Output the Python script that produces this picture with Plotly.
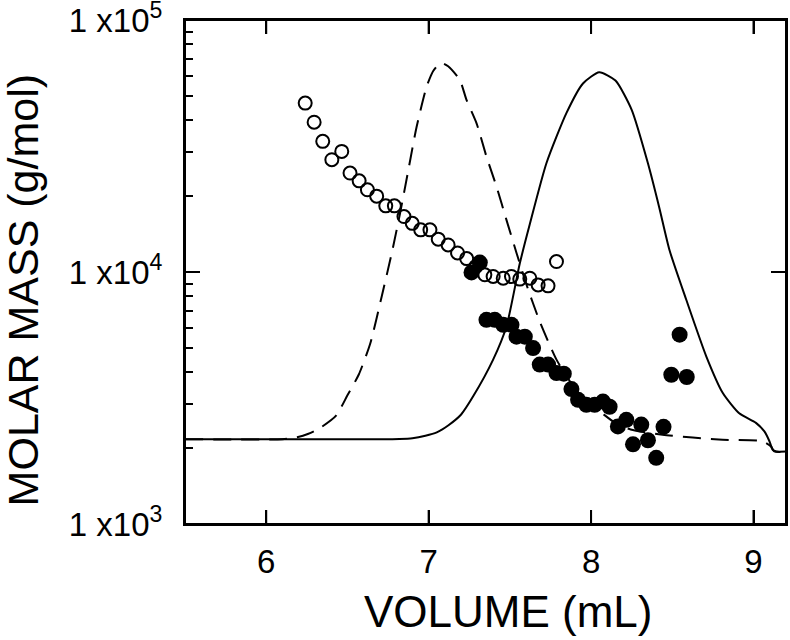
import plotly.graph_objects as go

# ---- data ----
volume_open = [6.240, 6.295, 6.348, 6.404, 6.465, 6.516, 6.572, 6.623, 6.680, 6.736,
               6.789, 6.848, 6.899, 6.951, 7.008, 7.059, 7.120, 7.178, 7.234, 7.290,
               7.346, 7.397, 7.459, 7.510, 7.561, 7.623, 7.674, 7.735, 7.787]
mass_open = [46800, 39300, 33000, 27900, 30100, 24700, 23000, 21200, 20000, 18300,
             18300, 16600, 15600, 14700, 14700, 13500, 12800, 11900, 11300, 10500,
             9750, 9600, 9450, 9600, 9370, 9450, 8890, 8810, 11000]

volume_filled = [7.264, 7.315, 7.356, 7.407, 7.459, 7.510, 7.541, 7.592, 7.643, 7.684,
                 7.735, 7.787, 7.832, 7.879, 7.920, 7.971, 8.022, 8.073, 8.114, 8.165,
                 8.217, 8.258, 8.309, 8.350, 8.401, 8.446, 8.494, 8.545, 8.589]
mass_filled = [9960, 10900, 6460, 6460, 6170, 6170, 5540, 5540, 4990, 4290,
               4290, 3970, 3950, 3430, 3110, 2970, 2970, 3060, 2920, 2440,
               2590, 2070, 2480, 2150, 1830, 2430, 3910, 5640, 3830]

volume_dashed = [5.50, 6.10, 6.19, 6.26, 6.33, 6.43, 6.50, 6.57, 6.64, 6.711,
                 6.773, 6.824, 6.875, 6.926, 6.988, 7.03, 7.075, 7.12, 7.192, 7.233,
                 7.295, 7.356, 7.418, 7.479, 7.541, 7.60, 7.684, 7.787, 7.885, 7.957,
                 8.053, 8.148, 8.244, 8.44, 8.81, 9.055, 9.108, 9.128, 9.20]
signal_dashed = [2170, 2170, 2210, 2280, 2400, 2690, 3240, 3920, 5190, 8000,
                 11900, 17100, 25400, 37700, 54500, 63000, 67500, 65500, 57800, 48200,
                 38900, 28700, 21800, 16100, 11900, 9000, 6360, 4490, 3560, 3140,
                 2800, 2520, 2370, 2260, 2160, 2130, 2030, 1940, 1935]

volume_solid = [5.50, 6.70, 6.82, 6.90, 6.98, 7.05, 7.12, 7.20, 7.274, 7.397, 7.479,
                7.561, 7.623, 7.725, 7.848, 7.95, 8.05, 8.15, 8.25, 8.35, 8.42,
                8.483, 8.586, 8.709, 8.811, 8.912, 9.015, 9.067, 9.098, 9.118, 9.14, 9.20]
signal_solid = [2170, 2170, 2175, 2190, 2240, 2310, 2460, 2720, 3210, 4490, 6080,
                10800, 15500, 27000, 42700, 56000, 62000, 57500, 44000, 27000, 18000,
                12200, 7760, 4630, 3310, 2750, 2520, 2330, 2130, 1970, 1940, 1940]

x_range = [5.5, 9.2]
y_range_log = [2.99999, 5.00001]
x_tick_vals = [6, 7, 8, 9]
y_tick_vals = [1e3, 1e4, 1e5]
y_tick_text = ["1 x10<sup>3</sup>", "1 x10<sup>4</sup>", "1 x10<sup>5</sup>"]
y_minor_vals = [2e3, 3e3, 4e3, 5e3, 6e3, 7e3, 8e3, 9e3,
                2e4, 3e4, 4e4, 5e4, 6e4, 7e4, 8e4, 9e4]

FONT = "Liberation Sans, Arial, sans-serif"
PLOT_H = 640 - 20 - 116
X_TICK_FRAC = 14 / PLOT_H

fig = go.Figure()
fig.add_trace(go.Scatter(x=volume_dashed, y=signal_dashed, mode="lines", xaxis="x2", yaxis="y2",
                         line=dict(color="black", width=2, dash="18px,10px", shape="spline", smoothing=0.6),
                         showlegend=False, hoverinfo="skip"))
fig.add_trace(go.Scatter(x=volume_solid, y=signal_solid, mode="lines", xaxis="x2", yaxis="y2",
                         line=dict(color="black", width=2, shape="spline", smoothing=0.6),
                         showlegend=False, hoverinfo="skip"))
fig.add_trace(go.Scatter(x=volume_open, y=mass_open, mode="markers",
                         marker=dict(symbol="circle-open", size=13, color="black",
                                     line=dict(width=2, color="black")),
                         showlegend=False))
fig.add_trace(go.Scatter(x=volume_filled, y=mass_filled, mode="markers",
                         marker=dict(symbol="circle", size=16, color="black",
                                     line=dict(width=0)),
                         showlegend=False))

axis_common = dict(showgrid=False, zeroline=False, showline=True, linecolor="black",
                   linewidth=2, ticks="inside", tickcolor="black", tickwidth=2,
                   automargin=False)

# frame + x ticks (bottom and top), built from the tick array
shapes = [dict(type="rect", xref="paper", yref="paper", x0=0, x1=1, y0=0, y1=1,
               line=dict(color="black", width=2), fillcolor="rgba(0,0,0,0)", layer="above")]
for v in x_tick_vals:
    shapes.append(dict(type="line", xref="x", yref="paper", x0=v, x1=v, y0=0, y1=X_TICK_FRAC,
                       line=dict(color="black", width=2), layer="above"))
    shapes.append(dict(type="line", xref="x", yref="paper", x0=v, x1=v, y0=1 - X_TICK_FRAC, y1=1,
                       line=dict(color="black", width=2), layer="above"))

fig.update_layout(
    width=790, height=640,
    margin=dict(l=185, r=4, t=20, b=116, autoexpand=False),
    paper_bgcolor="white", plot_bgcolor="white",
    font=dict(family=FONT, color="black"),
    xaxis=dict(range=x_range, tickvals=x_tick_vals, ticklen=14, mirror=False,
               tickfont=dict(size=33, family=FONT), ticklabelstandoff=7, **axis_common),
    xaxis2=dict(range=x_range, overlaying="x", side="top", anchor="y2", tickvals=x_tick_vals,
                ticklen=14, showticklabels=False, mirror=False, **axis_common),
    yaxis=dict(type="log", range=y_range_log, tickvals=y_tick_vals, ticktext=y_tick_text,
               ticklen=15, ticklabeloverflow="allow", mirror=False,
               minor=dict(tickvals=y_minor_vals, ticks="inside", ticklen=8,
                          tickwidth=2, tickcolor="black", showgrid=False),
               tickfont=dict(size=33, family=FONT), ticklabelstandoff=14, **axis_common),
    yaxis2=dict(type="log", range=y_range_log, overlaying="y", side="right", anchor="x2",
                tickvals=[1e4], ticklen=15, showticklabels=False, mirror=False, **axis_common),
    shapes=shapes,
    annotations=[
        dict(text="VOLUME (mL)", xref="paper", yref="paper", x=0.537, y=-0.174,
             showarrow=False, font=dict(size=44, family=FONT), xanchor="center", yanchor="middle"),
        dict(text="MOLAR MASS (g/mol)", xref="paper", yref="paper", x=-0.27, y=0.463,
             showarrow=False, textangle=-90, font=dict(size=43, family=FONT),
             xanchor="center", yanchor="middle"),
    ],
)

fig.write_html(
    "out.html",
    config={"displayModeBar": False},
    post_script="document.body.style.margin='0';document.body.style.padding='0';"
                "document.body.style.overflow='hidden';",
)
